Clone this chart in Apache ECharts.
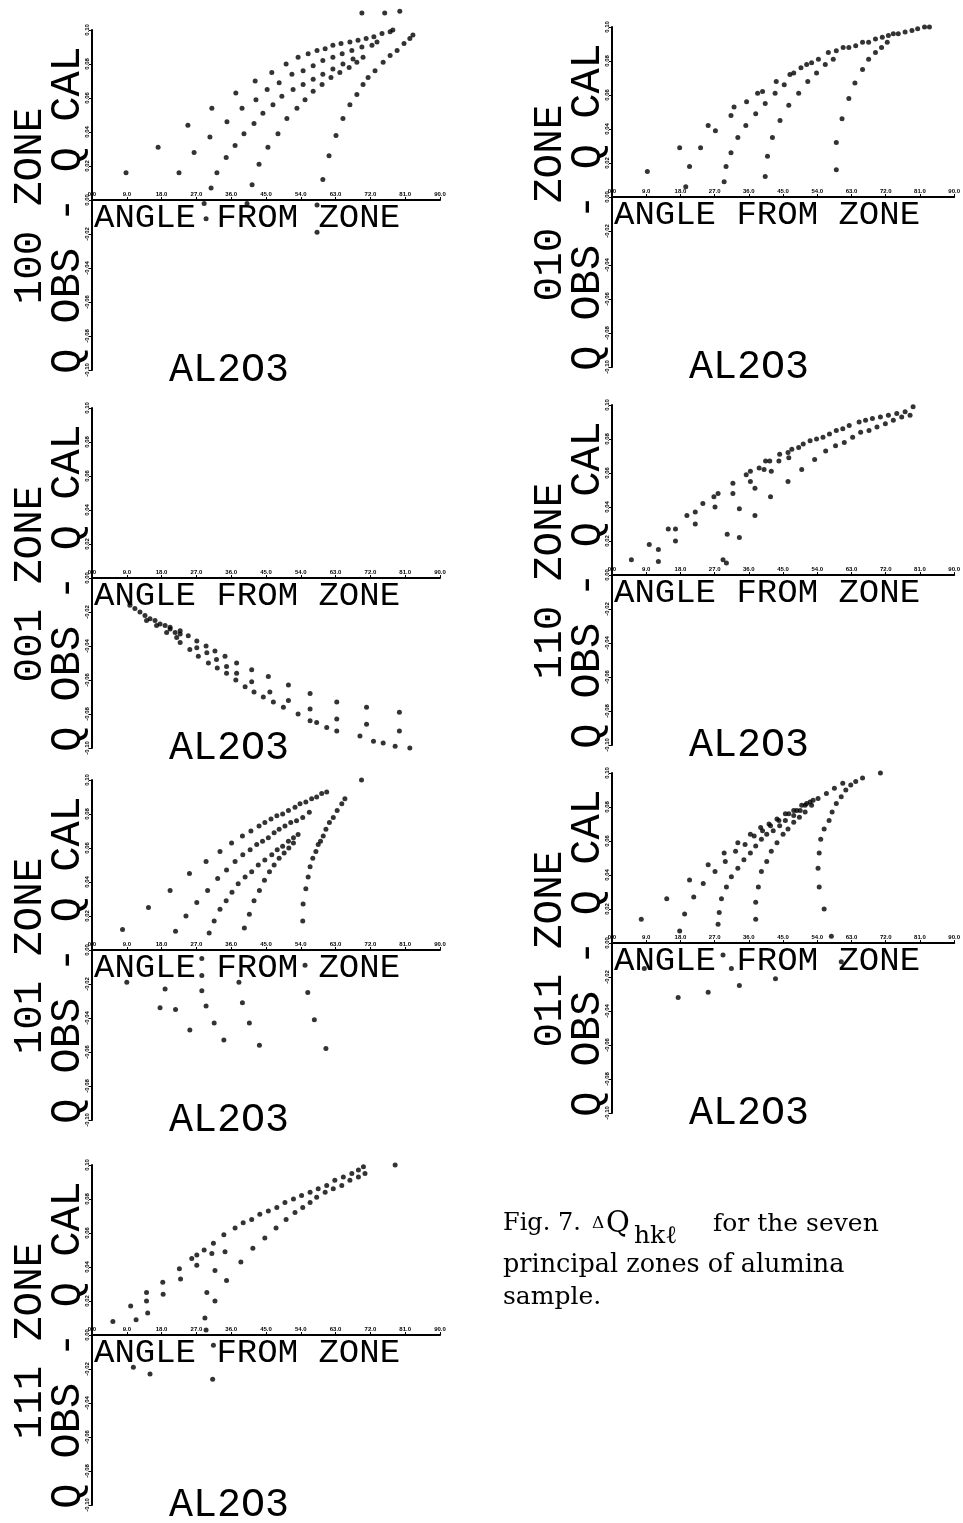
<!DOCTYPE html>
<html>
<head>
<meta charset="utf-8">
<title>AL2O3 zones</title>
<script src="https://cdn.jsdelivr.net/npm/echarts@6/dist/echarts.min.js"></script>
<style>
  html, body { margin: 0; padding: 0; background: #fff; }
  #main { width: 963px; height: 1523px; }
</style>
</head>
<body>
<div id="main"></div>
<script>
// tick labels (angle from zone, degrees) and Q OBS - Q CAL
var angleTicks = [0, 9, 18, 27, 36, 45, 54, 63, 72, 81, 90];
var dqTicks = [-0.10, -0.08, -0.06, -0.04, -0.02, 0, 0.02, 0.04, 0.06, 0.08, 0.10];
var zoneNames = ['100', '010', '001', '110', '101', '011', '111'];

// [angle, Q obs - Q cal]
var zone100 = [
  [8.8,0.016],[17.1,0.031],[24.8,0.044],[31.0,0.054],[37.2,0.063],[42.2,0.070],[46.5,0.075],[50.2,0.080],[53.3,0.084],[55.9,0.086],
  [58.2,0.088],[60.3,0.089],[62.3,0.091],[64.4,0.092],[66.7,0.093],[68.8,0.094],[70.9,0.095],[72.9,0.096],[75.0,0.098],[77.1,0.099],[77.8,0.100],
  [22.5,0.016],[26.4,0.028],[30.5,0.037],[34.9,0.046],[38.8,0.054],[42.4,0.059],[45.3,0.065],[48.4,0.069],[51.7,0.074],[54.6,0.076],
  [57.2,0.079],[59.7,0.082],[62.3,0.084],[64.7,0.086],[67.2,0.088],[69.8,0.090],[72.4,0.091],[73.7,0.093],
  [30.8,0.007],[32.3,0.016],[34.7,0.025],[37.0,0.032],[39.3,0.039],[41.9,0.045],[44.2,0.051],[46.8,0.056],[49.1,0.061],[52.0,0.065],
  [54.6,0.068],[57.2,0.071],[59.7,0.074],[62.3,0.077],[64.9,0.080],[67.5,0.083],
  [41.4,0.009],[43.2,0.021],[45.5,0.031],[48.1,0.039],[50.4,0.048],[53.0,0.054],[55.1,0.059],[57.2,0.064],[59.5,0.068],[61.8,0.072],
  [64.1,0.075],[66.5,0.078],[68.5,0.081],[70.1,0.084],
  [59.7,0.012],[61.3,0.026],[63.1,0.038],[64.9,0.048],[66.7,0.056],[68.5,0.062],[70.1,0.068],[71.4,0.072],[73.2,0.076],[75.3,0.081],
  [77.1,0.085],[78.9,0.088],[80.7,0.092],[82.2,0.095],[83.0,0.097],
  [29.0,-0.002],[29.5,-0.011],[40.1,-0.002],[58.2,-0.003],[58.2,-0.019],
  [69.8,0.110],[75.7,0.110],[79.6,0.111]
];
var zone010 = [
  [9.3,0.015],[17.8,0.029],[20.4,0.018],[19.4,0.006],[23.3,0.029],[25.3,0.042],[27.2,0.039],[29.5,0.009],[30.0,0.018],[31.3,0.026],
  [31.3,0.048],[32.1,0.053],[33.1,0.035],[35.2,0.042],[35.4,0.056],[37.8,0.049],[38.3,0.061],[39.6,0.062],[40.3,0.055],[40.3,0.012],
  [40.9,0.024],[42.2,0.035],[42.9,0.061],[43.2,0.068],[44.2,0.045],[45.3,0.066],[46.5,0.054],[46.8,0.072],[47.8,0.073],[49.1,0.061],
  [49.7,0.076],[51.2,0.078],[51.5,0.068],[52.5,0.079],[53.8,0.073],[54.3,0.081],[56.1,0.078],[56.9,0.085],[58.2,0.081],[59.0,0.032],
  [59.0,0.016],[59.0,0.086],[60.5,0.046],[60.8,0.088],[62.3,0.058],[62.3,0.088],[63.9,0.067],[64.1,0.089],[65.9,0.075],[65.9,0.091],
  [67.5,0.081],[67.5,0.091],[69.3,0.085],[69.3,0.093],[70.9,0.088],[71.1,0.094],[72.4,0.091],[72.7,0.095],[74.0,0.096],[75.3,0.096],
  [77.1,0.097],[78.9,0.098],[80.4,0.099],[82.2,0.100],[83.5,0.100]
];
var zone001 = [
  [9.8,-0.016],[11.1,-0.018],[12.4,-0.020],[13.7,-0.022],[15.0,-0.024],[16.3,-0.025],[17.6,-0.027],[18.9,-0.028],[20.2,-0.030],[21.5,-0.032],
  [22.8,-0.033],[14.1,-0.025],[16.7,-0.028],[19.3,-0.032],[21.9,-0.035],
  [20.2,-0.029],[22.8,-0.031],[24.9,-0.034],[27.1,-0.037],[29.5,-0.040],[31.8,-0.043],[34.4,-0.046],[37.4,-0.050],[41.3,-0.054],[45.6,-0.058],
  [50.8,-0.063],[56.4,-0.068],[63.3,-0.073],[71.0,-0.076],[79.5,-0.079],
  [27.1,-0.041],[29.7,-0.044],[32.2,-0.048],[34.8,-0.052],[37.4,-0.056],[41.3,-0.061],[46.0,-0.067],[50.8,-0.072],[56.4,-0.077],[63.3,-0.083],
  [71.0,-0.086],[79.5,-0.090],
  [22.8,-0.038],[25.3,-0.042],[27.5,-0.046],[30.1,-0.050],[32.4,-0.053],[34.8,-0.056],[37.2,-0.060],[39.6,-0.064],[41.9,-0.067],[44.3,-0.070],
  [46.9,-0.073],[49.5,-0.076],[53.3,-0.080],[56.4,-0.084],[58.1,-0.085],[60.7,-0.088],[63.3,-0.090],[69.3,-0.093],[72.8,-0.096],[75.3,-0.097],
  [78.4,-0.099],[82.2,-0.100]
];
var zone110 = [
  [5.1,0.009],[9.8,0.018],[12.2,0.015],[12.2,0.008],[14.8,0.027],[16.7,0.027],[16.7,0.020],[19.7,0.035],[21.9,0.037],[21.9,0.030],
  [23.9,0.042],[26.8,0.046],[27.9,0.048],[27.1,0.040],[29.2,0.009],[30.1,0.007],[30.3,0.024],[31.8,0.054],[31.8,0.048],[33.5,0.039],
  [33.5,0.022],[35.3,0.059],[36.4,0.061],[36.4,0.055],[37.6,0.051],[37.6,0.035],[38.7,0.063],[40.0,0.062],[40.4,0.067],[41.7,0.046],
  [41.5,0.067],[41.9,0.061],[43.9,0.067],[44.1,0.071],[46.3,0.072],[46.5,0.069],[46.3,0.055],[47.3,0.074],[49.1,0.075],[49.9,0.062],
  [50.3,0.077],[52.1,0.079],[53.3,0.068],[53.8,0.080],[55.5,0.081],[56.2,0.073],[57.2,0.083],[58.8,0.076],[59.0,0.085],[60.7,0.086],
  [61.1,0.078],[62.4,0.088],[63.3,0.081],[65.0,0.090],[65.4,0.084],[66.7,0.091],[67.6,0.085],[68.5,0.092],[69.7,0.087],[70.6,0.093],
  [71.9,0.089],[72.7,0.094],[74.0,0.091],[74.9,0.095],[76.2,0.093],[77.1,0.096],[78.4,0.094],[79.2,0.099]
];
var zone101 = [
  [7.9,0.012],[14.6,0.025],[20.2,0.035],[25.2,0.045],[29.5,0.052],[33.1,0.058],[36.1,0.063],[38.9,0.067],[41.1,0.070],[43.2,0.073],
  [44.7,0.075],[46.3,0.077],[47.8,0.079],[49.3,0.080],[50.8,0.082],[52.5,0.084],[53.8,0.086],[55.3,0.087],[56.8,0.089],[58.1,0.090],
  [59.4,0.092],[60.7,0.093],
  [21.6,0.011],[24.3,0.020],[27.1,0.028],[29.9,0.035],[32.5,0.042],[34.8,0.047],[37.0,0.052],[39.0,0.056],[40.9,0.059],[42.6,0.062],
  [44.1,0.064],[45.6,0.066],[47.1,0.069],[48.4,0.071],[49.9,0.073],[51.4,0.075],[52.9,0.076],[54.5,0.078],[56.2,0.081],
  [30.3,0.010],[31.6,0.017],[33.1,0.024],[34.7,0.029],[36.2,0.034],[37.8,0.039],[39.6,0.043],[41.3,0.046],[43.0,0.050],[44.7,0.053],
  [46.5,0.056],[47.9,0.059],[49.3,0.061],[50.8,0.064],[52.1,0.066],[53.3,0.068],
  [39.4,0.013],[40.7,0.021],[41.9,0.029],[43.3,0.035],[44.6,0.041],[45.9,0.046],[47.1,0.050],[48.4,0.054],[49.7,0.057],[50.9,0.060],[52.1,0.063],
  [54.5,0.017],[54.6,0.027],[55.3,0.036],[55.9,0.043],[56.4,0.049],[57.1,0.054],[57.9,0.058],[58.5,0.062],[59.1,0.064],[59.8,0.067],
  [60.5,0.071],[61.4,0.075],[62.4,0.078],[63.4,0.082],[64.6,0.086],[65.4,0.089],
  [69.7,0.100],
  [9.0,-0.019],[17.6,-0.034],[18.9,-0.023],[21.6,-0.035],[25.3,-0.047],[28.4,-0.005],[28.4,-0.015],[28.4,-0.024],[29.5,-0.033],[31.6,-0.043],
  [34.1,-0.053],[38.0,-0.019],[38.9,-0.031],[40.7,-0.043],[43.3,-0.056],[55.1,-0.009],[55.8,-0.025],[57.5,-0.041],[60.5,-0.058]
];
var zone011 = [
  [7.7,0.014],[14.4,0.026],[20.4,0.037],[25.3,0.046],[29.5,0.053],[33.1,0.059],[36.4,0.064],[39.1,0.068],[41.3,0.070],[43.4,0.073],
  [45.6,0.076],[47.8,0.078],[49.9,0.081],[52.1,0.083],[54.2,0.085],[56.4,0.088],[58.5,0.091],[60.7,0.094],
  [17.8,0.007],[21.5,0.027],[24.0,0.035],[27.1,0.042],[29.8,0.048],[32.5,0.054],[35.0,0.058],[37.4,0.063],[39.6,0.066],[41.7,0.069],
  [43.9,0.072],[46.5,0.076],[48.6,0.078],[50.8,0.081],[52.9,0.084],
  [19.1,0.017],[27.9,0.011],[28.2,0.018],[28.8,0.026],[30.1,0.033],[31.4,0.039],[33.1,0.044],[34.7,0.049],[36.4,0.053],[37.8,0.057],
  [39.3,0.061],[40.7,0.064],[42.4,0.066],[44.1,0.069],[45.6,0.072],[47.8,0.075],[49.5,0.078],[51.2,0.082],
  [37.8,0.014],[37.8,0.024],[38.5,0.033],[39.3,0.042],[40.7,0.048],[41.9,0.054],[43.4,0.059],[45.0,0.064],[46.3,0.067],[47.8,0.071],
  [49.3,0.074],[50.8,0.077],[52.5,0.081],
  [55.8,0.020],[54.5,0.033],[54.2,0.044],[54.5,0.053],[54.9,0.061],[55.8,0.067],[57.1,0.072],[57.9,0.077],[59.0,0.082],[60.3,0.086],
  [61.5,0.090],[62.8,0.093],[64.1,0.095],[65.9,0.097],[70.6,0.100],
  [8.5,-0.015],[17.4,-0.032],[25.3,-0.029],[29.2,-0.007],[31.4,-0.015],[33.5,-0.025],[43.0,-0.021],[60.3,-0.011],[57.7,0.004]
];
var zone111 = [
  [5.4,0.008],[10.0,0.017],[14.1,0.025],[18.3,0.031],[22.6,0.039],[25.8,0.045],[27.1,0.047],[29.0,0.050],[31.4,0.054],[34.1,0.059],
  [37.0,0.063],[39.1,0.066],[41.3,0.068],[43.4,0.071],[45.6,0.073],[47.8,0.075],[49.9,0.078],[52.1,0.080],[54.2,0.082],[56.4,0.084],
  [58.5,0.086],[60.7,0.088],[62.8,0.091],[65.0,0.093],[67.2,0.095],[68.9,0.097],[70.2,0.099],
  [11.4,0.009],[14.1,0.020],[14.4,0.013],[18.4,0.024],[22.9,0.033],[27.1,0.041],[31.0,0.048],[34.4,0.049],
  [29.2,0.010],[29.7,0.025],[31.8,0.020],[31.8,0.038],[34.8,0.032],[38.5,0.043],[41.6,0.051],[44.7,0.057],[47.6,0.063],[50.2,0.068],
  [52.5,0.072],[54.5,0.075],[56.4,0.078],[58.1,0.081],[60.3,0.084],[62.4,0.086],[64.6,0.088],[66.7,0.091],[68.9,0.093],[70.6,0.095],
  [78.4,0.100],
  [10.7,-0.019],[15.0,-0.023],[31.2,-0.026],[31.4,-0.006],[29.5,0.003]
];

var zoneData = [zone100, zone010, zone001, zone110, zone101, zone011, zone111];
// axis origin (y axis x, x axis y) of each panel in the page
var origins = [[92, 200], [612, 197], [92, 578], [612, 575], [92, 950], [612, 943], [92, 1335]];

var dom = document.getElementById('main');
var myChart = echarts.init(dom);
var plotFont = '"Liberation Mono", monospace';

var grid = [], xAxis = [], yAxis = [], series = [], graphic = [];
zoneNames.forEach(function (name, i) {
    var ox = origins[i][0], oy = origins[i][1];
    grid.push({ left: ox, top: oy - 170, width: 348, height: 340 });
    xAxis.push({
        gridIndex: i,
        type: 'value',
        position: 'bottom',
        offset: -170,               // zero line sits in the middle of the panel
        min: angleTicks[0],
        max: angleTicks[angleTicks.length - 1],
        interval: angleTicks[1] - angleTicks[0],
        splitLine: { show: false },
        axisLine: { onZero: false, lineStyle: { color: '#000', width: 2 } },
        axisTick: { show: true, inside: true, length: 3, lineStyle: { color: '#000' } },
        axisLabel: {
            inside: true, margin: 3, fontSize: 6, color: '#000', fontWeight: 'bold',
            formatter: function (v) { return v.toFixed(1); }
        }
    });
    yAxis.push({
        gridIndex: i,
        type: 'value',
        min: dqTicks[0],
        max: dqTicks[dqTicks.length - 1],
        interval: 0.02,
        splitLine: { show: false },
        axisLine: { lineStyle: { color: '#000', width: 2 } },
        axisTick: { show: true, length: 3, lineStyle: { color: '#000' } },
        axisLabel: {
            rotate: 90, margin: 2, fontSize: 6, color: '#000', fontWeight: 'bold',
            formatter: function (v) { return v.toFixed(2); }
        }
    });
    series.push({
        type: 'scatter',
        xAxisIndex: i,
        yAxisIndex: i,
        symbol: 'circle',
        symbolSize: 5,
        itemStyle: { color: '#000' },
        clip: false,
        data: zoneData[i]
    });
    // rotated axis titles
    graphic.push({
        type: 'text', x: ox - 62, y: oy + 6, rotation: Math.PI / 2,
        style: { text: name + ' ZONE', font: '41px ' + plotFont, fill: '#000', align: 'center', verticalAlign: 'middle' }
    });
    graphic.push({
        type: 'text', x: ox - 24, y: oy + 10, rotation: Math.PI / 2,
        style: { text: 'Q OBS - Q CAL', font: '42px ' + plotFont, fill: '#000', align: 'center', verticalAlign: 'middle' }
    });
    graphic.push({
        type: 'text', x: ox + 2, y: oy + 18,
        style: { text: 'ANGLE FROM ZONE', font: '34px ' + plotFont, fill: '#000', align: 'left', verticalAlign: 'middle' }
    });
    graphic.push({
        type: 'text', x: ox + 137, y: oy + 170,
        style: { text: 'AL2O3', font: '40px ' + plotFont, fill: '#000', align: 'center', verticalAlign: 'middle' }
    });
});

// caption
var serif = '"DejaVu Serif", serif';
var capFont = '24px ' + serif;
graphic.push({ type: 'text', x: 503, y: 1224, style: { text: 'Fig.', font: capFont, fill: '#000', verticalAlign: 'middle' } });
graphic.push({ type: 'text', x: 558, y: 1224, style: { text: '7.', font: capFont, fill: '#000', verticalAlign: 'middle' } });
graphic.push({ type: 'text', x: 592, y: 1224, style: { text: '\u0394', font: '17px ' + serif, fill: '#000', verticalAlign: 'middle' } });
graphic.push({ type: 'text', x: 606, y: 1224, style: { text: 'Q', font: '29px ' + serif, fill: '#000', verticalAlign: 'middle' } });
graphic.push({ type: 'text', x: 634, y: 1236, style: { text: 'hk\u2113', font: '25px ' + serif, fill: '#000', verticalAlign: 'middle' } });
graphic.push({ type: 'text', x: 713, y: 1224, style: { text: 'for the seven', font: '25px ' + serif, fill: '#000', verticalAlign: 'middle' } });
graphic.push({ type: 'text', x: 503, y: 1265, style: { text: 'principal zones of alumina', font: '25.5px ' + serif, fill: '#000', verticalAlign: 'middle' } });
graphic.push({ type: 'text', x: 503, y: 1297, style: { text: 'sample.', font: '25px ' + serif, fill: '#000', verticalAlign: 'middle' } });

var option = {
    animation: false,
    backgroundColor: '#fff',
    grid: grid,
    xAxis: xAxis,
    yAxis: yAxis,
    series: series,
    graphic: graphic
};
myChart.setOption(option, true);
window.onresize = myChart.resize;
</script>
</body>
</html>
